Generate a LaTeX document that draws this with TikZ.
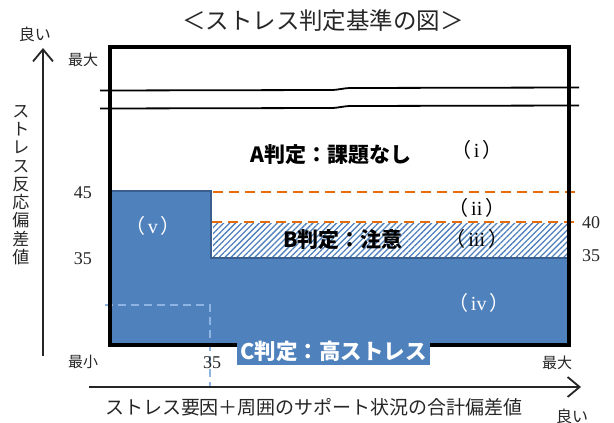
\documentclass[tikz,border=0pt]{standalone}
\usepackage{fontspec}
\setmainfont{Liberation Serif}
\newfontfamily\jp{Noto Sans CJK JP}
\usetikzlibrary{arrows.meta,patterns.meta}
\definecolor{blfill}{HTML}{4F81BD}
\definecolor{bledge}{HTML}{3A5F8F}
\definecolor{orng}{HTML}{E46C0A}
\definecolor{ltbl}{HTML}{8EB4E3}
\definecolor{txt}{HTML}{262626}
\tikzset{
  lbl/.style={inner sep=0pt, text=txt},
  jpsmall/.style={lbl, font=\jp\fontsize{15}{16}\selectfont},
  num/.style={lbl, font=\fontsize{18}{18}\selectfont},
  judg/.style={inner sep=0pt, text=black, font=\jp\bfseries\fontsize{21}{22}\selectfont},
  roman/.style={inner sep=0pt, font=\fontsize{20}{20}\selectfont},
  axisline/.style={line width=1.8pt, txt, -{Straight Barb[length=12pt,width=20pt]}},
  orangedash/.style={orng, line width=2.6pt, dash pattern=on 10pt off 6pt},
  bluedash/.style={ltbl, line width=2pt, dash pattern=on 8pt off 5pt},
  breakline/.style={line width=1.8pt, black},
}
\newcommand{\rmnum}[1]{{\jp （}\hspace{2.5pt}#1\hspace{3pt}{\jp ）}}
\begin{document}
\begin{tikzpicture}[x=1pt,y=-1pt]
\useasboundingbox (0,0) rectangle (614,423);
% blue region
\draw[bledge, line width=2.5pt, fill=blfill, line join=miter]
  (111,191) -- (211,191) -- (211,258) -- (569,258) -- (569,345) -- (111,345) -- cycle;
% hatch
\fill[pattern={Lines[angle=45,distance=4.2pt,line width=1.3pt]}, pattern color=blfill]
  (213,223) rectangle (568,256.7);
% orange dashed
\coordinate (o1a) at (213,192); \coordinate (o1b) at (581,192);
\coordinate (o2a) at (212,222); \coordinate (o2b) at (579,222);
\draw[orangedash] (o1a) -- (o1b);
\draw[orangedash] (o2a) -- (o2b);
% light-blue dashed
\coordinate (d1) at (105,305); \coordinate (d2) at (210,305); \coordinate (d3) at (210,386);
\draw[bluedash] (d1) -- (d2) -- (d3);
% main frame
\draw[line width=4pt, black] (110,47) rectangle (569,345);
% break lines
\draw[breakline] (100,90.5) -- (330,90) .. controls (340,90) and (342,88) .. (352,88) -- (579,87.5);
\draw[breakline] (100,108.5) -- (330,108) .. controls (340,108) and (342,106) .. (352,106) -- (579,105.5);
% C label
\node[fill=blfill, text=white, font=\jp\bfseries\fontsize{21.5}{22}\selectfont,
      minimum width=193pt, minimum height=27pt, inner sep=0pt] (clab) at (333.5,351.5) {C判定：高ストレス};
% title
\node[lbl, font=\jp\fontsize{23.5}{24}\selectfont] (title) at (323,21) {＜ストレス判定基準の図＞};
% axes
\coordinate (yb) at (43,356); \coordinate (yt) at (43,48);
\coordinate (xl) at (89,387); \coordinate (xr) at (581,387);
\draw[axisline] (yb) -- (yt);
\draw[axisline] (xl) -- (xr);
\node[jpsmall, font=\jp\fontsize{16}{17}\selectfont] (goodY) at (35,34) {良い};
\node[jpsmall, font=\jp\fontsize{16}{17}\selectfont] (goodX) at (572,416) {良い};
\node[lbl, font=\jp\fontsize{17}{18.25}\selectfont, align=center] (ylab) at (21,185)
  {ス\\ト\\レ\\ス\\反\\応\\偏\\差\\値};
\node[lbl, font=\jp\fontsize{19}{20}\selectfont] (xlab) at (314,407) {ストレス要因＋周囲のサポート状況の合計偏差値};
% axis tick labels
\node[jpsmall] (ymax) at (83,60) {最大};
\node[jpsmall] (xmin) at (83,362) {最小};
\node[jpsmall] (xmax) at (557,363) {最大};
\node[num] (y45) at (83,193) {45};
\node[num] (y35) at (83,259) {35};
\node[num] (r40) at (591,223) {40};
\node[num] (r35) at (591,256) {35};
\node[num] (x35) at (212,363) {35};
% judgement labels
\node[judg] (ja) at (331,155) {A判定：課題なし};
\node[judg] (jb) at (343,240) {B判定：注意};
\node[roman] (ri) at (477,150) {\rmnum{i}};
\node[roman] (rii) at (477,208) {\rmnum{ii}};
\node[roman] (riii) at (477,239) {\rmnum{iii}};
\node[roman, text=white] (riv) at (479,303) {\rmnum{iv}};
\node[roman, text=white] (rv) at (153,226) {\rmnum{v}};
\end{tikzpicture}
\end{document}
